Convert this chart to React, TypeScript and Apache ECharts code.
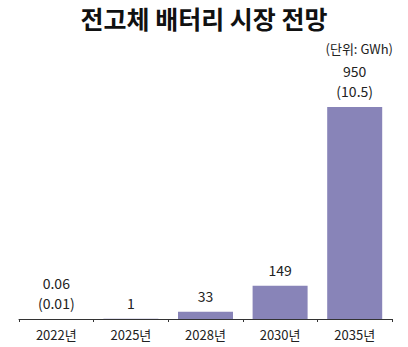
import React, { useEffect, useRef } from "react";
import * as echarts from "echarts";

const categories = ["2022년", "2025년", "2028년", "2030년", "2035년"];
const values = [0.06, 1, 33, 149, 950];
const valueLabels = ["0.06", "1", "33", "149", "950"];
const subLabels = ["(0.01)", "", "", "", "(10.5)"];
const titleText = "전고체 배터리 시장 전망";
const unitText = "(단위: GWh)";

const FONT = "'Noto Sans CJK KR', 'Noto Sans', sans-serif";

export default function App() {
  const ref = useRef<HTMLDivElement>(null);
  useEffect(() => {
    if (!ref.current) return;
    const chart = echarts.init(ref.current, null, { renderer: "svg" });
    chart.setOption({
      animation: false,
      backgroundColor: "#ffffff",
      title: [
        {
          text: titleText,
          left: "center",
          top: 0,
          textStyle: { fontFamily: FONT, fontSize: 25, fontWeight: "bold", color: "#111111" },
        },
        {
          text: unitText,
          right: 10,
          top: 37,
          textStyle: { fontFamily: FONT, fontSize: 13, fontWeight: "normal", color: "#222222" },
        },
      ],
      grid: { left: 19, right: 16, top: 107, bottom: 28 },
      xAxis: {
        type: "category",
        data: categories,
        boundaryGap: true,
        axisLine: { lineStyle: { color: "#333333", width: 1 } },
        axisTick: { show: true, length: 3, alignWithLabel: false, lineStyle: { color: "#333333" } },
        axisLabel: { fontFamily: FONT, fontSize: 13, color: "#222222", margin: 9 },
      },
      yAxis: {
        type: "value",
        min: 0,
        max: 950,
        show: false,
        splitLine: { show: false },
      },
      series: [
        {
          type: "bar",
          data: values,
          barWidth: 55,
          itemStyle: { color: "#8884B8" },
          label: {
            show: true,
            position: "top",
            distance: 6,
            fontFamily: FONT,
            fontSize: 14,
            lineHeight: 20,
            color: "#222222",
            formatter: (p: any) => {
              const s = subLabels[p.dataIndex];
              return s ? valueLabels[p.dataIndex] + "\n" + s : valueLabels[p.dataIndex];
            },
          },
        },
      ],
    });
    return () => chart.dispose();
  }, []);
  return (
    <div
      ref={ref}
      style={{ position: "fixed", left: 0, top: 0, width: 408, height: 347 }}
    />
  );
}
